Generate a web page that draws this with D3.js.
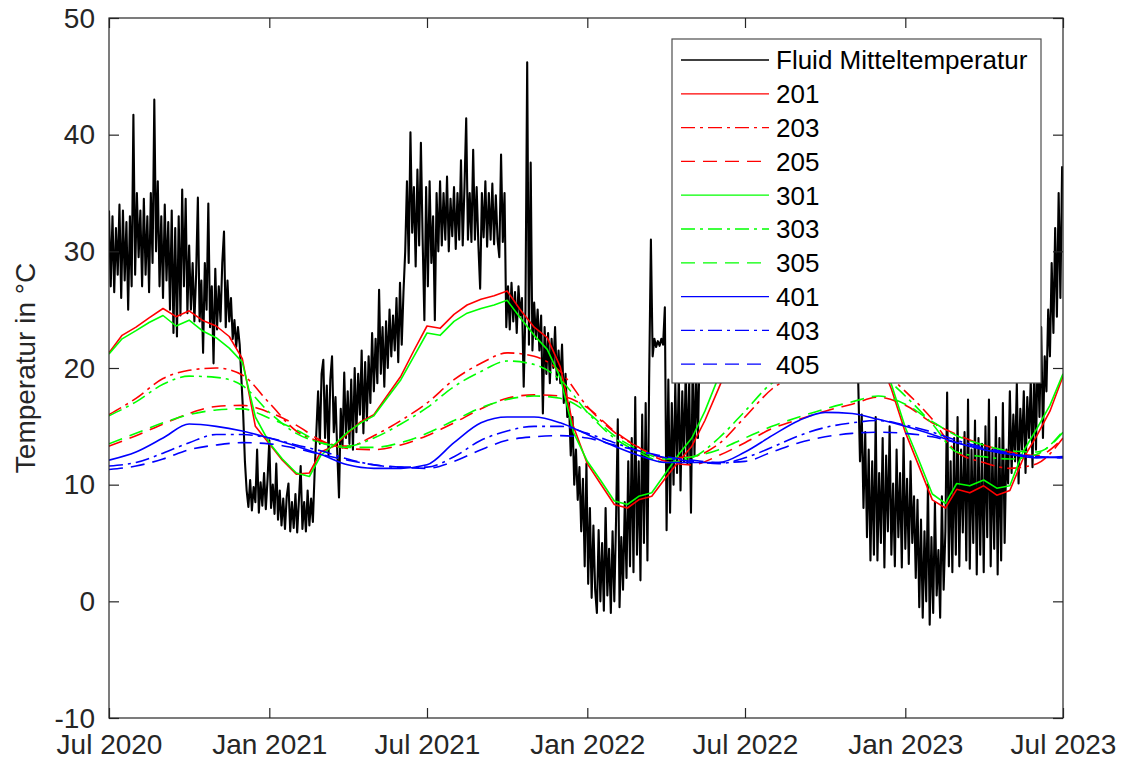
<!DOCTYPE html>
<html>
<head>
<meta charset="utf-8">
<title>Temperatur</title>
<script src="https://cdnjs.cloudflare.com/ajax/libs/d3/7.8.5/d3.min.js"></script>
<style>
  body { margin: 0; background: #ffffff; }
  svg { display: block; font-family: "Liberation Sans", Arial, Helvetica, sans-serif; }
</style>
</head>
<body>
<div id="chart"></div>
<script>
// axis ticks
var xTickDates  = ["2020-07-01", "2021-01-01", "2021-07-01", "2022-01-01", "2022-07-01", "2023-01-01", "2023-07-01"];
var xTickLabels = ["Jul 2020", "Jan 2021", "Jul 2021", "Jan 2022", "Jul 2022", "Jan 2023", "Jul 2023"];
var yTicks = [-10, 0, 10, 20, 30, 40, 50];

// Fluid Mitteltemperatur, one reading every 2 days starting 1 Jul 2020
var fluidStart = "2020-07-01";
var fluidStepDays = 2;
var fluidTemp = [
  33.5, 27, 33, 26.5, 32, 28, 34, 26, 33.5, 27.5,
  32.5, 25, 33, 27, 41.7, 28, 35, 29.5, 33.5, 27,
  34.5, 28, 33, 26.5, 35, 29, 43, 30, 36, 27,
  33, 26, 34, 27.5, 32.5, 25, 33.5, 23, 32, 22.7,
  33, 24.5, 35.3, 27, 34.5, 24.7, 30.5, 25, 29, 24,
  28, 34.6, 24, 27.5, 21.3, 29, 25, 34.1, 23.5, 27,
  20.4, 28.5, 23.3, 27, 24, 29, 31.7, 23.5, 27.5, 24,
  26, 22.5, 24.1, 21.8, 23.5, 22, 19, 16.1, 12, 9.5,
  8.1, 10.4, 7.8, 9.8, 8.5, 13, 7.6, 10.2, 8.2, 11,
  7.9, 10.5, 13.8, 8, 10, 7.5, 11.8, 7, 9.5, 6.5,
  8.8, 6.2, 9, 10.1, 6, 8.5, 6.3, 9.2, 5.9, 8.7,
  11.6, 6.2, 8.5, 6, 9.5, 6.5, 8.8, 6.8, 11, 14.5,
  18, 13.5, 19.5, 20.7, 14, 18.5, 12.5, 19, 21, 14.5,
  17.5, 12.8, 8.9, 16.5, 13.2, 19.6, 14, 18, 13.5, 19,
  13, 20, 14.5, 19.5, 16, 21.5, 14.4, 20.5, 15.5, 21,
  17, 23, 18, 22.5, 18.7, 26.7, 19.5, 23.5, 18.4, 24,
  20, 25, 21, 24.5, 21.5, 26, 20.5, 27.3, 22, 26.5,
  30, 36, 29, 40.2, 31.6, 35.5, 28.7, 37, 30.5, 39.3,
  31, 24.1, 35.5, 27, 36, 29, 33, 24.1, 35, 30,
  36, 30.5, 35, 31, 36.4, 30, 34.5, 31.3, 35.5, 30.2,
  35, 31, 37.8, 30.5, 35.5, 41.4, 31, 35, 30.8, 38.7,
  31, 35.5, 30.5, 26.8, 35, 31.2, 36, 30.4, 35, 31,
  35.8, 30.6, 34.8, 31, 29.5, 38.3, 30.8, 35, 23.5, 27,
  23.3, 27.3, 24, 26.5, 23, 27, 24.5, 26, 18.4, 25,
  46.2, 22, 37.6, 21.5, 25.6, 22.5, 25, 21.5, 24.5, 16.1,
  23.5, 19.5, 23, 18.7, 22.5, 20, 23.5, 19, 21.5, 18.7,
  22, 17, 19.5, 15.8, 17, 12.5, 15.8, 10, 13, 8.7,
  11.5, 6, 10.5, 3, 11.8, 1.5, 8, 0.3, 6.5, 1,
  -1, 6.1, 0, 5, -0.8, 8, 0.5, 4.5, -1, 6,
  0, 7, 15.6, -0.5, 5.5, 1, 8.5, 2, 12, 3,
  14, 2.5, 17.5, 4, 12, 1.8, 16, 5, 17, 3.5,
  19.2, 31, 21, 22.5, 21.8, 22.3, 21.9, 22.5, 22, 25.2,
  6.1, 19, 7.6, 17, 10, 18.7, 11, 19.5, 9.5, 18,
  12, 20, 11.8, 19, 7.6, 21, 12.5, 19.5, 14, 22,
  19.5, 24, 20, 26, 23, 27, 24, 29, 25, 30,
  27, 32, 28, 33, 27.5, 34, 29, 33.5, 28, 35,
  30, 34, 29, 35.5, 30.5, 34, 29.5, 36, 31, 34.5,
  30, 35, 31, 36, 30, 34.5, 31.5, 35.5, 30.5, 36,
  31, 35, 30, 36.5, 31, 34, 30.5, 35.5, 31.5, 35,
  30, 36, 31, 35, 30.5, 34.5, 31, 35.5, 29.5, 34,
  30, 35, 29, 34, 28.5, 33, 27, 32.5, 26, 31,
  25.5, 30, 24.5, 29.5, 25, 28.5, 23.5, 27.5, 24, 28,
  23, 27, 22.5, 26.5, 22, 25.5, 21.5, 24.5, 20.5, 19,
  18.7, 12, 16, 8, 14.5, 5.5, 13, 3.5, 12, 4,
  15.8, 3.5, 11, 5, 14, 2.9, 12.5, 6, 15, 4,
  10.1, 3, 13, 5.5, 11, 2.9, 14, 4.5, 10.5, 3.2,
  12, 5, 9, 2, 8.7, -0.5, 7, -1.4, 6, 0,
  10, -2, 5.5, -1, 8.5, 0.5, 4.4, -1.4, 9, 1,
  6, 17.9, 3, 12, 2.5, 14, 4, 15.8, 3, 13,
  5.9, 14.5, 3.5, 17.3, 2.8, 13, 5, 15.5, 2.3, 14,
  4, 13.5, 2.5, 15, 5.5, 17.3, 3, 13, 4.5, 15.8,
  2.3, 14, 3.5, 17, 5, 13, 10.1, 18, 11, 16,
  12, 18.7, 10.1, 16.5, 13, 18, 11, 17.5, 14, 19,
  11.5, 20, 13, 22, 15.8, 23.5, 14, 21, 18, 25,
  21, 29, 23, 32, 24.4, 35, 26, 37.3
];

// sensors 201 and 301: values on the 1st and 16th of every month, Jul 2020 .. Jul 2023
var t201 = [
  21.3, 22.8, 23.5, 24.3, 25.1, 24.4, 24.9, 24.1, 23.6, 22.7, 20.8, 15.0,
  13.5, 12.1, 10.9, 11.0, 12.8, 13.3, 14.4, 15.4, 16.0, 17.6, 19.3, 21.5,
  23.6, 23.4, 24.6, 25.4, 25.9, 26.2, 26.6, 25.0, 23.5, 22.6, 20.1, 15.0,
  11.8, 10.1, 8.3, 8.0, 8.7, 9.0, 10.6, 12.0, 13.3, 15.5, 18.3, 21.0,
  22.8, 24.0, 25.2, 25.9, 26.5, 26.9, 27.2, 26.8, 25.0, 23.0, 21.0, 18.2,
  14.5, 11.7, 8.7, 8.0, 9.6, 9.3, 9.9, 9.1, 9.5, 12.2, 14.2, 16.3,
  19.3
];
var t301 = [
  21.2, 22.5, 23.2, 23.9, 24.5, 23.6, 24.1, 23.2, 22.6, 21.7, 20.5, 15.8,
  13.6, 12.2, 11.0, 10.7, 12.5, 13.4, 14.5, 15.3, 15.9, 17.4, 19.0, 21.0,
  23.0, 22.8, 24.0, 24.7, 25.1, 25.4, 25.8, 24.3, 22.8, 21.6, 19.2, 14.5,
  12.0, 10.4, 8.6, 8.3, 9.0, 9.3, 11.0, 12.6, 14.0, 16.3, 19.3, 21.5,
  23.0, 24.0, 25.0, 25.6, 26.0, 26.3, 26.5, 26.0, 24.5, 22.8, 21.0, 18.6,
  14.9, 12.2, 9.2, 8.4, 10.1, 9.9, 10.4, 9.7, 9.9, 12.8, 14.8, 16.8,
  19.5
];

// other sensors: values on the 1st of every month, Jul 2020 .. Jul 2023
var t203 = [16.0, 17.4, 19.1, 19.8, 20.0, 19.4, 17.0, 14.6, 13.7, 13.3, 14.2, 15.5,
            17.0, 19.0, 20.4, 21.3, 21.0, 19.7, 16.7, 14.5, 13.2, 12.3, 12.4, 13.5,
            15.8, 18.2, 19.5, 20.5, 20.8, 20.0, 18.0, 15.6, 12.8, 11.9, 11.4, 11.8, 14.0];
var t205 = [13.3, 14.2, 15.2, 16.1, 16.7, 16.8, 16.2, 15.1, 13.8, 13.1, 13.0, 13.4,
            14.2, 15.3, 16.5, 17.4, 17.7, 17.6, 16.6, 14.6, 13.2, 12.0, 11.7, 12.5,
            13.6, 14.8, 15.6, 16.3, 16.9, 17.5, 16.8, 15.3, 14.3, 13.4, 12.8, 12.5, 14.0];
var t303 = [15.9, 17.1, 18.6, 19.3, 19.2, 18.5, 16.2, 14.4, 13.6, 13.3, 14.0, 15.2,
            16.6, 18.4, 19.7, 20.6, 20.3, 19.0, 16.2, 14.0, 12.8, 11.9, 12.3, 14.0,
            16.3, 18.7, 19.6, 20.2, 20.3, 19.6, 17.6, 15.2, 12.8, 12.4, 12.2, 12.6, 14.6];
var t305 = [13.5, 14.4, 15.3, 16.0, 16.4, 16.5, 15.7, 14.7, 13.6, 13.2, 13.2, 13.6,
            14.4, 15.5, 16.6, 17.3, 17.6, 17.4, 16.2, 14.2, 13.0, 12.2, 12.4, 13.0,
            14.0, 15.0, 15.8, 16.5, 17.1, 17.6, 16.9, 15.4, 14.2, 13.4, 12.9, 12.8, 14.5];
var t401 = [12.1, 12.8, 14.0, 15.2, 15.0, 14.6, 14.0, 13.3, 12.6, 11.7, 11.4, 11.4,
            11.7, 13.6, 15.3, 15.8, 15.8, 15.3, 14.3, 13.3, 12.5, 11.9, 11.9, 11.9,
            12.8, 14.2, 15.5, 16.2, 16.1, 15.6, 15.0, 14.3, 13.6, 13.0, 12.6, 12.3, 12.4];
var t403 = [11.6, 11.9, 12.7, 13.6, 14.3, 14.3, 14.0, 13.4, 12.9, 12.2, 11.7, 11.5,
            11.5, 12.4, 13.8, 14.6, 15.0, 15.0, 14.4, 13.6, 12.9, 12.3, 12.0, 11.8,
            12.3, 13.2, 14.2, 14.9, 15.3, 15.5, 15.1, 14.5, 13.8, 13.2, 12.7, 12.4, 12.3];
var t405 = [11.3, 11.6, 12.2, 13.0, 13.4, 13.6, 13.5, 13.1, 12.6, 12.1, 11.7, 11.5,
            11.4, 12.0, 13.0, 13.8, 14.1, 14.2, 14.0, 13.4, 12.9, 12.4, 12.1, 11.9,
            12.0, 12.8, 13.6, 14.1, 14.4, 14.5, 14.4, 14.1, 13.6, 13.1, 12.6, 12.4, 12.3];

var seriesNames = ["Fluid Mitteltemperatur", "201", "203", "205", "301", "303", "305", "401", "403", "405"];

(function() {
  var width = 1129, height = 760;
  var plot = {left: 109, right: 1063, top: 18, bottom: 718};
  var axisColor = "#262626";

  var parseDay = d3.timeParse("%Y-%m-%d");
  var start = parseDay(xTickDates[0]);
  var end = parseDay(xTickDates[xTickDates.length - 1]);

  var x = d3.scaleTime().domain([start, end]).range([plot.left, plot.right]);
  var y = d3.scaleLinear().domain([-10, 50]).range([plot.bottom, plot.top]);

  // date grids for the series
  var monthDates = d3.timeMonth.range(start, d3.timeDay.offset(end, 1));
  var halfMonthDates = [];
  monthDates.forEach(function(d, i) {
    halfMonthDates.push(d);
    if (i < monthDates.length - 1) halfMonthDates.push(d3.timeDay.offset(d, 15));
  });
  var fluidT0 = parseDay(fluidStart);

  function zipDates(dates, values) {
    return values.map(function(v, i) { return {date: dates[i], value: v}; });
  }

  var dashDot = "14,5,3,5", dashed = "14,8";
  var series = [
    {name: seriesNames[0], color: "#000000", dash: null, width: 2.1, curve: d3.curveLinear,
     points: fluidTemp.map(function(v, i) { return {date: d3.timeDay.offset(fluidT0, i * fluidStepDays), value: v}; })},
    {name: seriesNames[1], color: "#ff0000", dash: null,    width: 1.6, curve: d3.curveLinear, points: zipDates(halfMonthDates, t201)},
    {name: seriesNames[2], color: "#ff0000", dash: dashDot, width: 1.6, curve: d3.curveMonotoneX, points: zipDates(monthDates, t203)},
    {name: seriesNames[3], color: "#ff0000", dash: dashed,  width: 1.6, curve: d3.curveMonotoneX, points: zipDates(monthDates, t205)},
    {name: seriesNames[4], color: "#00ff00", dash: null,    width: 1.6, curve: d3.curveLinear, points: zipDates(halfMonthDates, t301)},
    {name: seriesNames[5], color: "#00ff00", dash: dashDot, width: 1.6, curve: d3.curveMonotoneX, points: zipDates(monthDates, t303)},
    {name: seriesNames[6], color: "#00ff00", dash: dashed,  width: 1.6, curve: d3.curveMonotoneX, points: zipDates(monthDates, t305)},
    {name: seriesNames[7], color: "#0000ff", dash: null,    width: 1.6, curve: d3.curveMonotoneX, points: zipDates(monthDates, t401)},
    {name: seriesNames[8], color: "#0000ff", dash: dashDot, width: 1.6, curve: d3.curveMonotoneX, points: zipDates(monthDates, t403)},
    {name: seriesNames[9], color: "#0000ff", dash: dashed,  width: 1.6, curve: d3.curveMonotoneX, points: zipDates(monthDates, t405)}
  ];

  var svg = d3.select("#chart").append("svg")
    .attr("width", width)
    .attr("height", height);

  svg.append("defs").append("clipPath").attr("id", "plotClip")
    .append("rect")
    .attr("x", plot.left).attr("y", plot.top)
    .attr("width", plot.right - plot.left).attr("height", plot.bottom - plot.top);

  // lines
  var lineLayer = svg.append("g").attr("clip-path", "url(#plotClip)");
  series.forEach(function(s) {
    var line = d3.line()
      .curve(s.curve)
      .x(function(d) { return x(d.date); })
      .y(function(d) { return y(d.value); });
    lineLayer.append("path")
      .datum(s.points)
      .attr("fill", "none")
      .attr("stroke", s.color)
      .attr("stroke-width", s.width)
      .attr("stroke-linejoin", "round")
      .attr("stroke-dasharray", s.dash)
      .attr("d", line);
  });

  // axes, ticks pointing inwards on all four sides
  var xTicks = xTickDates.map(parseDay);
  var fontSize = 28;

  svg.append("g")
    .attr("transform", "translate(0," + plot.bottom + ")")
    .call(d3.axisBottom(x).tickValues(xTicks)
      .tickFormat(function(d, i) { return xTickLabels[i]; })
      .tickSizeInner(-10).tickSizeOuter(0).tickPadding(16));
  svg.append("g")
    .attr("transform", "translate(0," + plot.top + ")")
    .call(d3.axisTop(x).tickValues(xTicks).tickFormat("").tickSizeInner(-10).tickSizeOuter(0));
  var leftAxis = svg.append("g")
    .attr("transform", "translate(" + plot.left + ",0)")
    .call(d3.axisLeft(y).tickValues(yTicks).tickFormat(function(d) { return String(d); })
      .tickSizeInner(-10).tickSizeOuter(0).tickPadding(14));
  svg.append("g")
    .attr("transform", "translate(" + plot.right + ",0)")
    .call(d3.axisRight(y).tickValues(yTicks).tickFormat("").tickSizeInner(-10).tickSizeOuter(0));

  svg.selectAll(".domain").remove();
  svg.selectAll(".tick line").attr("stroke", axisColor).attr("stroke-width", 1.2);
  svg.selectAll(".tick text")
    .attr("fill", axisColor)
    .style("font-size", fontSize + "px")
    .style("font-family", "'Liberation Sans', Arial, Helvetica, sans-serif");
  leftAxis.selectAll(".tick text").attr("dy", "0.33em");

  // box
  svg.append("rect")
    .attr("x", plot.left).attr("y", plot.top)
    .attr("width", plot.right - plot.left).attr("height", plot.bottom - plot.top)
    .attr("fill", "none")
    .attr("stroke", axisColor)
    .attr("stroke-width", 1.2);

  // y axis title
  svg.append("text")
    .attr("transform", "translate(35," + ((plot.top + plot.bottom) / 2) + ") rotate(-90)")
    .attr("text-anchor", "middle")
    .attr("fill", axisColor)
    .style("font-size", fontSize + "px")
    .text("Temperatur in °C");

  // legend
  var legend = svg.append("g");
  legend.append("rect")
    .attr("x", 672).attr("y", 39)
    .attr("width", 369).attr("height", 344)
    .attr("fill", "#ffffff")
    .attr("stroke", "#4d4d4d")
    .attr("stroke-width", 1.2);
  series.forEach(function(s, i) {
    var ly = 60 + i * 33.8;
    legend.append("line")
      .attr("x1", 681).attr("x2", 769)
      .attr("y1", ly).attr("y2", ly)
      .attr("stroke", s.color)
      .attr("stroke-width", 1.3)
      .attr("stroke-dasharray", s.dash);
    legend.append("text")
      .attr("x", 776).attr("y", ly)
      .attr("dy", "0.36em")
      .attr("fill", "#000000")
      .style("font-size", "26px")
      .text(s.name);
  });
})();
</script>
</body>
</html>
